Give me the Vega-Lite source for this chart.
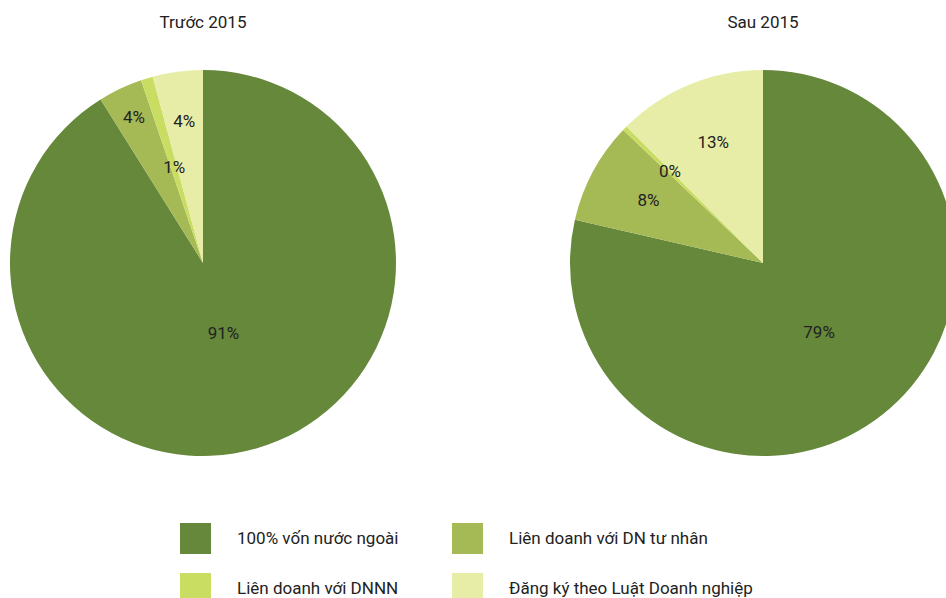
{
  "$schema": "https://vega.github.io/schema/vega-lite/v6.json",
  "padding": {"left": 10, "top": 14, "right": 0, "bottom": 0},
  "data": {"values": [
    {"period": "Trước 2015", "category": "100% vốn nước ngoài", "ord": 1, "value": 91.1, "label": "91%"},
    {"period": "Trước 2015", "category": "Liên doanh với DN tư nhân", "ord": 2, "value": 3.7, "label": "4%"},
    {"period": "Trước 2015", "category": "Liên doanh với DNNN", "ord": 3, "value": 1.0, "label": "1%"},
    {"period": "Trước 2015", "category": "Đăng ký theo Luật Doanh nghiệp", "ord": 4, "value": 4.2, "label": "4%"},
    {"period": "Sau 2015", "category": "100% vốn nước ngoài", "ord": 1, "value": 78.6, "label": "79%"},
    {"period": "Sau 2015", "category": "Liên doanh với DN tư nhân", "ord": 2, "value": 8.5, "label": "8%"},
    {"period": "Sau 2015", "category": "Liên doanh với DNNN", "ord": 3, "value": 0.4, "label": "0%"},
    {"period": "Sau 2015", "category": "Đăng ký theo Luật Doanh nghiệp", "ord": 4, "value": 12.5, "label": "13%"}
  ]},
  "facet": {
    "column": {
      "field": "period", "type": "nominal", "sort": ["Trước 2015", "Sau 2015"],
      "header": {"title": null, "labelFontSize": 17, "labelFont": "Roboto", "labelColor": "#222222", "labelPadding": 38}
    }
  },
  "spacing": 174,
  "spec": {
    "width": 386,
    "height": 386,
    "encoding": {
      "theta": {"field": "value", "type": "quantitative", "stack": true},
      "order": {"field": "ord", "type": "quantitative"}
    },
    "layer": [
      {
        "mark": {"type": "arc", "outerRadius": 193, "strokeWidth": 0},
        "encoding": {
          "color": {
            "field": "category", "type": "nominal",
            "scale": {
              "domain": ["100% vốn nước ngoài", "Liên doanh với DN tư nhân", "Liên doanh với DNNN", "Đăng ký theo Luật Doanh nghiệp"],
              "range": ["#65883a", "#a5b955", "#c9dd63", "#e7eda6"]
            },
            "legend": {
              "orient": "none", "direction": "horizontal", "legendX": 170, "legendY": 453, "columns": 2, "title": null,
              "symbolType": "square", "symbolSize": 961, "symbolStrokeWidth": 0,
              "labelFontSize": 17, "labelFont": "Roboto", "labelColor": "#222222", "labelOffset": 26,
              "rowPadding": 19, "columnPadding": 53, "labelLimit": 400
            }
          }
        }
      },
      {
        "mark": {"type": "text", "radius": 74, "fontSize": 17, "font": "Roboto", "color": "#222222"},
        "encoding": {
          "detail": {"field": "category"},
          "text": {"condition": {"test": "datum.period == 'Trước 2015' && datum.ord == 1", "field": "label"}, "value": ""}
        }
      },
      {
        "mark": {"type": "text", "radius": 161, "fontSize": 17, "font": "Roboto", "color": "#222222"},
        "encoding": {
          "detail": {"field": "category"},
          "text": {"condition": {"test": "datum.period == 'Trước 2015' && datum.ord == 2", "field": "label"}, "value": ""}
        }
      },
      {
        "mark": {"type": "text", "radius": 99, "fontSize": 17, "font": "Roboto", "color": "#222222"},
        "encoding": {
          "detail": {"field": "category"},
          "text": {"condition": {"test": "datum.period == 'Trước 2015' && datum.ord == 3", "field": "label"}, "value": ""}
        }
      },
      {
        "mark": {"type": "text", "radius": 142, "fontSize": 17, "font": "Roboto", "color": "#222222"},
        "encoding": {
          "detail": {"field": "category"},
          "text": {"condition": {"test": "datum.period == 'Trước 2015' && datum.ord == 4", "field": "label"}, "value": ""}
        }
      },
      {
        "mark": {"type": "text", "radius": 90, "fontSize": 17, "font": "Roboto", "color": "#222222"},
        "encoding": {
          "detail": {"field": "category"},
          "text": {"condition": {"test": "datum.period == 'Sau 2015' && datum.ord == 1", "field": "label"}, "value": ""}
        }
      },
      {
        "mark": {"type": "text", "radius": 130, "fontSize": 17, "font": "Roboto", "color": "#222222"},
        "encoding": {
          "detail": {"field": "category"},
          "text": {"condition": {"test": "datum.period == 'Sau 2015' && datum.ord > 1", "field": "label"}, "value": ""}
        }
      }
    ]
  },
  "config": {"view": {"stroke": null}}
}
